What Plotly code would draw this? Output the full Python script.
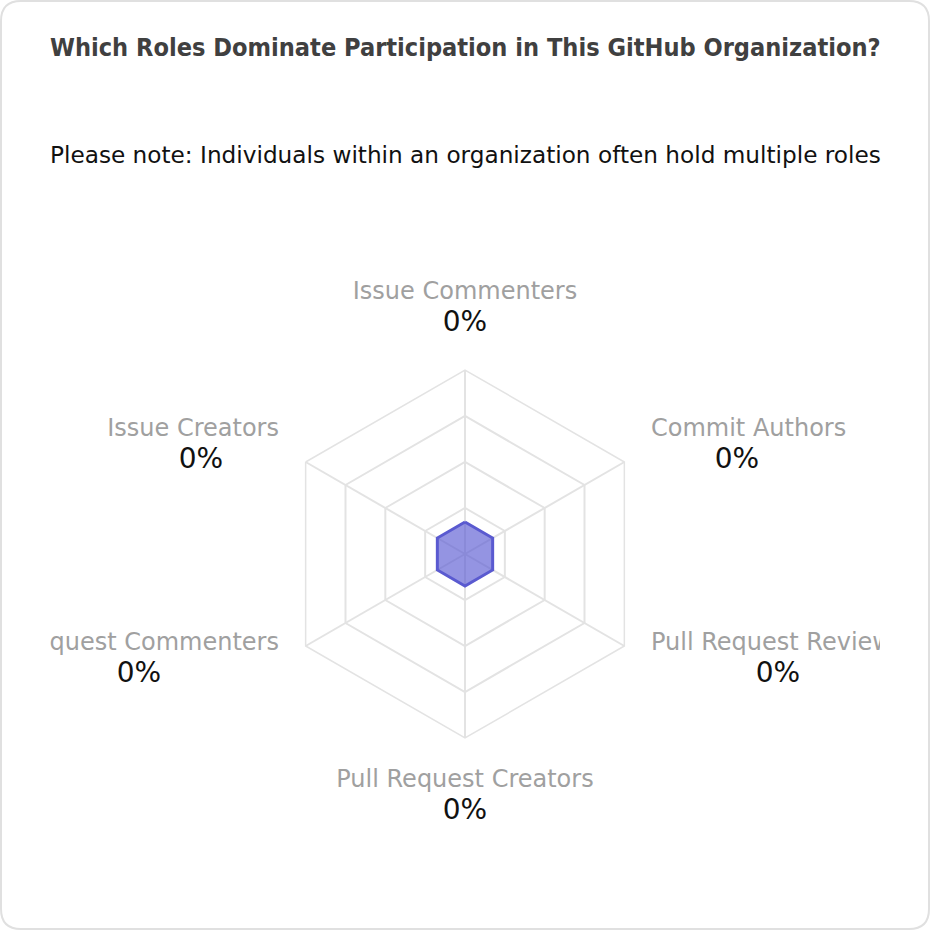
import plotly.graph_objects as go

# ---- data ----
roles = ["Issue Commenters", "Commit Authors", "Pull Request Reviewers",
         "Pull Request Creators", "Pull Request Commenters", "Issue Creators"]
shares = [0, 0, 0, 0, 0, 0]  # percent
title_text = "Which Roles Dominate Participation in This GitHub Organization?"
subtitle_text = "Please note: Individuals within an organization often hold multiple roles"

# label anchor positions (page pixels) and alignment
name_pos = [(465, 293, "middle center"), (651, 430, "middle right"), (651, 644, "middle right"),
            (465, 781, "middle center"), (279, 644, "middle left"), (279, 430, "middle left")]
value_pos = [(465, 324), (737, 461), (778, 675), (465, 812), (139, 675), (201, 461)]

W = H = 930
ML, MR, MT, MB = 50, 50, 50, 50
PW, PH = W - ML - MR, H - MT - MB


def px(x):
    return (x - ML) / PW


def py(y):
    return (H - MB - y) / PH


cx, cy, R = 465, 554, 184
r_lo, r_hi = -0.21, 1.0
ticks = [r_lo + f * (r_hi - r_lo) for f in (0.25, 0.5, 0.75, 1.0)]

fig = go.Figure()

theta = roles + roles[:1]
r = shares + shares[:1]
fig.add_trace(go.Scatterpolar(
    r=r, theta=theta, mode="lines", fill="toself",
    fillcolor="rgba(90,90,210,0.65)",
    line=dict(color="#5a5ad0", width=3),
    hoverinfo="skip", showlegend=False,
))

grid = "#e3e3e3"
fig.update_layout(
    polar=dict(
        domain=dict(x=[px(cx - R), px(cx + R)], y=[py(cy + R), py(cy - R)]),
        gridshape="linear",
        bgcolor="white",
        radialaxis=dict(range=[r_lo, r_hi], tickvals=ticks, showticklabels=False,
                        ticks="", showline=False, gridcolor=grid, gridwidth=1.5),
        angularaxis=dict(direction="clockwise", rotation=90, showticklabels=False,
                         ticks="", showline=True, linecolor=grid, linewidth=1.5,
                         gridcolor=grid, gridwidth=1.5),
    )
)

# labels as clipped text traces on hidden pixel-mapped axes
fig.add_trace(go.Scatter(
    x=[p[0] for p in name_pos], y=[p[1] for p in name_pos], mode="text",
    text=roles, textposition=[p[2] for p in name_pos],
    textfont=dict(family="DejaVu Sans", size=24, color="#a0a0a0"),
    cliponaxis=True, hoverinfo="skip", showlegend=False,
))
fig.add_trace(go.Scatter(
    x=[p[0] for p in value_pos], y=[p[1] for p in value_pos], mode="text",
    text=[f"{v:.0f}%" for v in shares], textposition="middle center",
    textfont=dict(family="DejaVu Sans", size=28, color="#111111"),
    cliponaxis=True, hoverinfo="skip", showlegend=False,
))

fig.update_xaxes(range=[ML, W - MR], visible=False, fixedrange=True)
fig.update_yaxes(range=[H - MB, MT], visible=False, fixedrange=True)

# rounded border
x0, y0, x1, y1, rr = 1, 1, 929, 929, 20
path = (f"M {px(x0 + rr)},{py(y0)} L {px(x1 - rr)},{py(y0)} "
        f"Q {px(x1)},{py(y0)} {px(x1)},{py(y0 + rr)} L {px(x1)},{py(y1 - rr)} "
        f"Q {px(x1)},{py(y1)} {px(x1 - rr)},{py(y1)} L {px(x0 + rr)},{py(y1)} "
        f"Q {px(x0)},{py(y1)} {px(x0)},{py(y1 - rr)} L {px(x0)},{py(y0 + rr)} "
        f"Q {px(x0)},{py(y0)} {px(x0 + rr)},{py(y0)} Z")
fig.add_shape(type="path", path=path, xref="paper", yref="paper",
              line=dict(color="#e0e0e0", width=2), layer="below")

fig.add_annotation(text=title_text, x=0.5, y=py(48), xref="paper", yref="paper",
                   xanchor="center", yanchor="middle", showarrow=False,
                   font=dict(family="DejaVu Sans Condensed, DejaVu Sans", size=25.1,
                             color="#404040", weight="bold"))
fig.add_annotation(text=subtitle_text, x=0.5, y=py(154), xref="paper", yref="paper",
                   xanchor="center", yanchor="middle", showarrow=False,
                   font=dict(family="DejaVu Sans", size=23.2, color="#111111"))

fig.update_layout(
    width=W, height=H, margin=dict(l=ML, r=MR, t=MT, b=MB),
    paper_bgcolor="white", plot_bgcolor="rgba(0,0,0,0)",
    showlegend=False,
)

fig.write_html("out.html")
